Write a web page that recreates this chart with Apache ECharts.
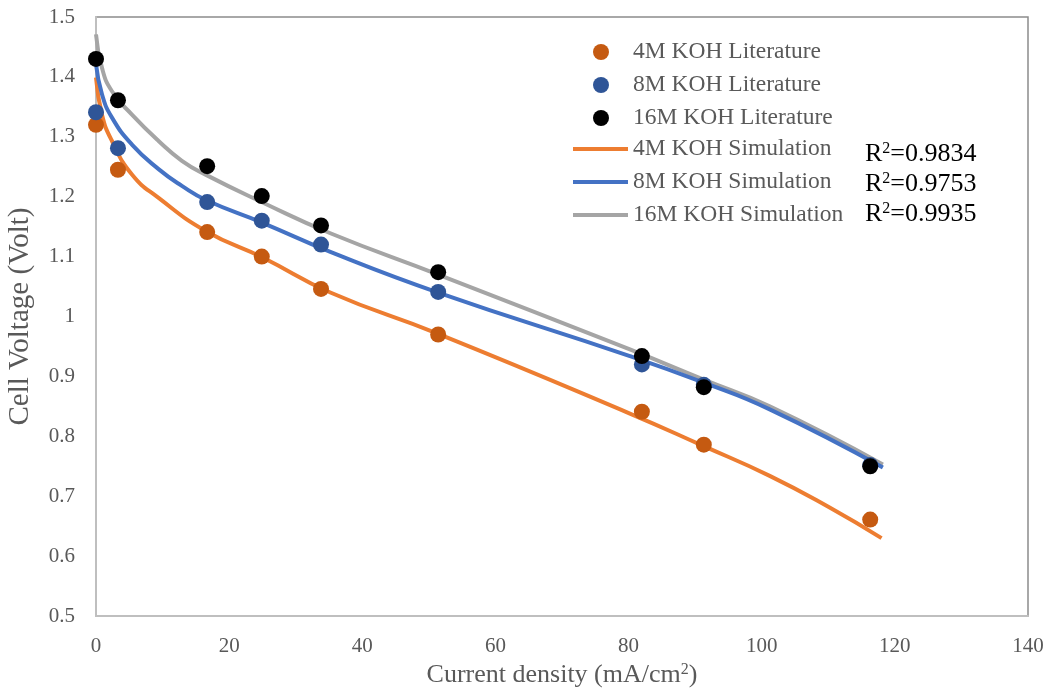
<!DOCTYPE html>
<html>
<head>
<meta charset="utf-8">
<script src="https://cdn.jsdelivr.net/npm/echarts@6/dist/echarts.min.js"></script>
<style>
  html, body { margin: 0; padding: 0; background: #fff; }
  #main { width: 1053px; height: 697px; }
</style>
</head>
<body>
<div id="main"></div>
<script>
// literature points (current density, cell voltage)
var litX = [0, 3.3, 16.7, 24.9, 33.8, 51.4, 82.0, 91.3, 116.3];
var lit4M = [1.320, 1.245, 1.141, 1.100, 1.046, 0.970, 0.841, 0.786, 0.661];
var lit8M = [1.341, 1.281, 1.191, 1.160, 1.120, 1.041, 0.920, 0.886, 0.752];
var lit16M = [1.430, 1.361, 1.251, 1.201, 1.152, 1.074, 0.934, 0.882, 0.750];

// simulation curves
var sim4MX = [0, 0.9, 2.4, 5.4, 9.4, 16.6, 25.1, 35.2, 51.4, 80.2, 91.2, 101.2, 110.2, 118.0];
var sim4MY = [1.399, 1.337, 1.293, 1.237, 1.198, 1.142, 1.098, 1.040, 0.971, 0.838, 0.784, 0.734, 0.681, 0.630];
var sim8MX = [0, 0.9, 2.4, 5.4, 9.4, 12.9, 16.6, 25.1, 35.2, 51.4, 80.2, 91.2, 101.2, 118.2];
var sim8MY = [1.421, 1.371, 1.332, 1.287, 1.246, 1.218, 1.194, 1.156, 1.108, 1.040, 0.934, 0.890, 0.845, 0.748];
var sim16MX = [0, 0.9, 2.4, 5.4, 9.4, 12.9, 16.6, 25.1, 35.2, 51.4, 80.2, 91.2, 101.2, 118.2];
var sim16MY = [1.471, 1.415, 1.376, 1.337, 1.293, 1.260, 1.236, 1.190, 1.139, 1.070, 0.945, 0.895, 0.850, 0.753];

var r2Labels = ['0.9834', '0.9753', '0.9935'];

function pairs(xs, ys) {
    return xs.map(function (x, i) { return [x, ys[i]]; });
}

var font = 'Liberation Serif';
var gray = '#595959';

var myChart = echarts.init(document.getElementById('main'));

var option = {
    animation: false,
    textStyle: { fontFamily: font },
    grid: {
        left: 96, right: 25, top: 17, bottom: 81,
        outerBoundsMode: 'none',
        containLabel: false,
        show: true,
        borderColor: '#8c8c8c',
        borderWidth: 1.5
    },
    legend: [
        {
            data: ['4M KOH Literature', '8M KOH Literature', '16M KOH Literature'],
            orient: 'vertical',
            left: 593, top: 40,
            padding: 0,
            icon: 'circle',
            itemWidth: 16, itemHeight: 16,
            itemGap: 9,
            textStyle: { color: gray, fontSize: 23.5, fontFamily: font, lineHeight: 22, padding: [0, 0, 0, 19] }
        },
        {
            data: ['4M KOH Simulation', '8M KOH Simulation', '16M KOH Simulation'],
            orient: 'vertical',
            left: 573, top: 137,
            padding: 0,
            icon: 'rect',
            itemWidth: 55, itemHeight: 4,
            itemGap: 9,
            textStyle: { color: gray, fontSize: 23.5, fontFamily: font, lineHeight: 22 }
        }
    ],
    xAxis: {
        type: 'value',
        min: 0, max: 140, interval: 20,
        name: 'Current density (mA/cm{sup|2})',
        nameLocation: 'middle',
        nameGap: 46,
        nameTextStyle: {
            color: gray, fontSize: 26, fontFamily: font,
            rich: { sup: { fontSize: 16, verticalAlign: 'top', color: gray, fontFamily: font, padding: [0, 0, 10, 0] } }
        },
        axisLine: { show: true, lineStyle: { color: '#bfbfbf', width: 2 } },
        axisTick: { show: false },
        splitLine: { show: false },
        axisLabel: { color: gray, fontSize: 21, fontFamily: font, margin: 20 }
    },
    yAxis: {
        type: 'value',
        min: 0.5, max: 1.5, interval: 0.1,
        name: 'Cell Voltage (Volt)',
        nameLocation: 'middle',
        nameGap: 61,
        nameTextStyle: { color: gray, fontSize: 29, fontFamily: font },
        axisLine: { show: true, lineStyle: { color: '#bfbfbf', width: 2 } },
        axisTick: { show: false },
        splitLine: { show: false },
        axisLabel: { color: gray, fontSize: 21, fontFamily: font, margin: 21 }
    },
    series: [
        { name: '4M KOH Literature', type: 'scatter', data: pairs(litX, lit4M), symbolSize: 16, itemStyle: { color: '#c55a11', opacity: 1 }, z: 5 },
        { name: '8M KOH Literature', type: 'scatter', data: pairs(litX, lit8M), symbolSize: 16, itemStyle: { color: '#2f5597', opacity: 1 }, z: 5 },
        { name: '16M KOH Literature', type: 'scatter', data: pairs(litX, lit16M), symbolSize: 16, itemStyle: { color: '#000000', opacity: 1 }, z: 6 },
        { name: '4M KOH Simulation', type: 'line', data: pairs(sim4MX, sim4MY), smooth: 0.5, showSymbol: false, lineStyle: { color: '#ed7d31', width: 4 }, itemStyle: { color: '#ed7d31' }, z: 3 },
        { name: '8M KOH Simulation', type: 'line', data: pairs(sim8MX, sim8MY), smooth: 0.5, showSymbol: false, lineStyle: { color: '#4472c4', width: 4 }, itemStyle: { color: '#4472c4' }, z: 3 },
        { name: '16M KOH Simulation', type: 'line', data: pairs(sim16MX, sim16MY), smooth: 0.5, showSymbol: false, lineStyle: { color: '#a5a5a5', width: 4 }, itemStyle: { color: '#a5a5a5' }, z: 2 }
    ],
    graphic: r2Labels.map(function (v, i) {
        return {
            type: 'text',
            left: 865,
            top: 141 + i * 30,
            style: {
                text: 'R{sup|2}=' + v,
                fill: '#000',
                fontSize: 26,
                fontFamily: font,
                rich: { sup: { fontSize: 16, verticalAlign: 'top', fill: '#000', fontFamily: font, padding: [0, 0, 10, 0] } }
            }
        };
    })
};

myChart.setOption(option);

window.onresize = function () {
    myChart.resize();
};
</script>
</body>
</html>
